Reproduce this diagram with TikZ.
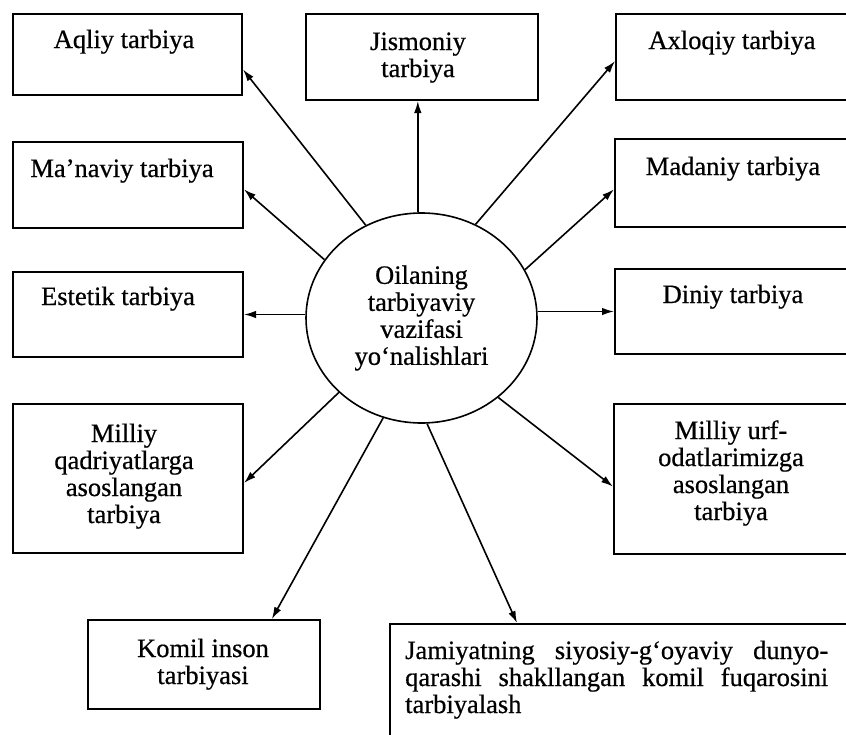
\documentclass[tikz,border=0pt]{standalone}
\usepackage{fontspec}
\setmainfont[FakeBold=0.6]{Liberation Serif}
\usetikzlibrary{shapes.geometric,arrows.meta,calc}
\newcommand{\boxlines}[2][c]{\begin{tabular}[t]{@{}#1@{}}#2\end{tabular}}
\begin{document}
\begin{tikzpicture}[x=1pt,y=-1pt,
  frame/.style={draw, line width=2pt, inner sep=0pt, anchor=north west},
  lbl/.style={anchor=base, inner sep=0pt, font=\fontsize{26.5}{27}\selectfont},
  arr/.style={line width=1.6pt, -{Latex[length=12pt,width=7.5pt]}}]
\useasboundingbox (0,0) rectangle (846,734);

% central ellipse
\node[ellipse, draw, line width=1.6pt, minimum width=231pt, minimum height=210pt,
      inner sep=0pt, align=center, font=\fontsize{26.5}{27}\selectfont]
      (c) at (421.5,318) {Oilaning\\tarbiyaviy\\vazifasi\\yo‘nalishlari};

% boxes
\node[frame, minimum width=229pt, minimum height=81pt] (aq)  at (12,13) {};
\node[frame, minimum width=232pt, minimum height=86pt] (jis) at (305,13) {};
\node[frame, minimum width=240pt, minimum height=86pt] (axl) at (615,13) {};
\node[frame, minimum width=230pt, minimum height=86pt] (man) at (12,141) {};
\node[frame, minimum width=240pt, minimum height=88pt] (mad) at (614,138) {};
\node[frame, minimum width=230pt, minimum height=85pt] (est) at (12,271) {};
\node[frame, minimum width=240pt, minimum height=85pt] (din) at (614,268) {};
\node[frame, minimum width=230pt, minimum height=149pt] (mq) at (12,403) {};
\node[frame, minimum width=240pt, minimum height=150pt] (mu) at (613,403) {};
\node[frame, minimum width=232pt, minimum height=89pt] (kom) at (87,619) {};
\node[frame, minimum width=480pt, minimum height=150pt] (jam) at (389,623) {};

% labels
\node[lbl] (aqt)  at (124,48)  {\boxlines{Aqliy tarbiya}};
\node[lbl] (jist) at (418,50)  {\boxlines{Jismoniy\\tarbiya}};
\node[lbl] (axlt) at (732,49)  {\boxlines{Axloqiy tarbiya}};
\node[lbl] (mant) at (122,177) {\boxlines{Ma’naviy tarbiya}};
\node[lbl] (madt) at (733,175) {\boxlines{Madaniy tarbiya}};
\node[lbl] (estt) at (118,305) {\boxlines{Estetik tarbiya}};
\node[lbl] (dint) at (733,303) {\boxlines{Diniy tarbiya}};
\node[lbl] (mqt)  at (124,442) {\boxlines{Milliy\\qadriyatlarga\\asoslangan\\tarbiya}};
\node[lbl] (mut)  at (731,439) {\boxlines{Milliy urf-\\odatlarimizga\\asoslangan\\tarbiya}};
\node[lbl] (komt) at (203,657) {\boxlines{Komil inson\\tarbiyasi}};
\node[lbl, anchor=base west] (jamt) at (405,659) {\boxlines[l]{%
  \makebox[423pt][s]{Jamiyatning siyosiy-g‘oyaviy dunyo-}\\
  \makebox[423pt][s]{qarashi shakllangan komil fuqarosini}\\
  tarbiyalash}};

% connectors
\draw[arr] (c.121.6) -- ($(aq.north east)!0.68!(aq.south east)$);
\draw[arr] (c.92) -- (c.92 |- jis.south);
\draw[arr] (c.60.1) -- ($(axl.north west)!0.547!(axl.south west)$);
\draw[arr] (c.149.4) -- ($(man.north east)!0.55!(man.south east)$);
\draw[arr] (c.25.7) -- ($(mad.north west)!0.57!(mad.south west)$);
\draw[arr] (est.east -| c.west) -- (est.east);
\draw[arr] (din.west -| c.east) -- (din.west);
\draw[arr] (c.222.3) -- ($(mq.north east)!0.53!(mq.south east)$);
\draw[arr] (c.249.1) -- ($(kom.north west)!0.79!(kom.north east)$);
\draw[arr] (c.273.5) -- ($(jam.north west)+(128,0)$);
\draw[arr] (c.314.8) -- ($(mu.north west)!0.55!(mu.south west)$);
\end{tikzpicture}
\end{document}
